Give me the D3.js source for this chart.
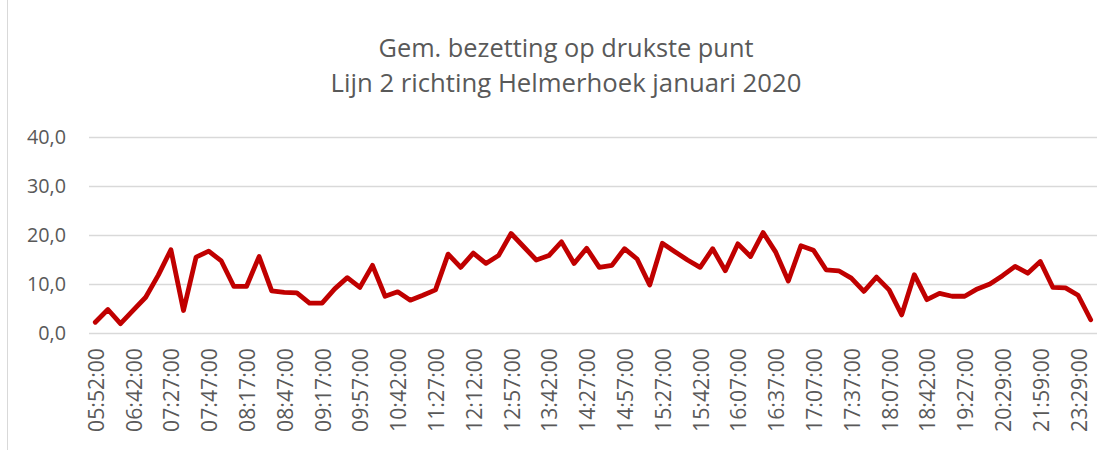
<!DOCTYPE html>
<html><head><meta charset="utf-8">
<script src="https://cdn.jsdelivr.net/npm/d3@7"></script>
<style>body{margin:0;background:#fff}svg{display:block}</style>
</head><body>
<svg id="c" width="1112" height="450"></svg>
<script>
const titleLines = ["Gem. bezetting op drukste punt", "Lijn 2 richting Helmerhoek januari 2020"];
const times = ["05:52:00","06:12:00","06:27:00","06:42:00","06:57:00","07:12:00","07:27:00","07:32:00","07:42:00","07:47:00",
"07:57:00","08:07:00","08:17:00","08:27:00","08:37:00","08:47:00","08:57:00","09:07:00","09:17:00","09:27:00",
"09:42:00","09:57:00","10:12:00","10:27:00","10:42:00","10:57:00","11:12:00","11:27:00","11:42:00","11:57:00",
"12:12:00","12:27:00","12:42:00","12:57:00","13:12:00","13:27:00","13:42:00","13:57:00","14:12:00","14:27:00",
"14:37:00","14:47:00","14:57:00","15:07:00","15:17:00","15:27:00","15:32:00","15:37:00","15:42:00","15:52:00",
"15:57:00","16:07:00","16:17:00","16:27:00","16:37:00","16:47:00","16:57:00","17:07:00","17:17:00","17:27:00",
"17:37:00","17:47:00","17:57:00","18:07:00","18:17:00","18:27:00","18:42:00","18:57:00","19:12:00","19:27:00",
"19:42:00","19:59:00","20:29:00","20:59:00","21:29:00","21:59:00","22:29:00","22:59:00","23:29:00","23:59:00"];
const values = [2.2,4.8,1.9,4.6,7.3,11.8,17.0,4.6,15.5,16.7,
14.7,9.5,9.5,15.6,8.6,8.3,8.2,6.1,6.1,9.0,
11.3,9.3,13.8,7.5,8.4,6.7,7.7,8.8,16.1,13.4,
16.3,14.2,15.8,20.3,17.6,14.9,15.8,18.6,14.2,17.3,
13.4,13.8,17.2,15.1,9.8,18.3,16.6,14.9,13.4,17.2,
12.7,18.2,15.6,20.5,16.5,10.6,17.8,16.9,12.9,12.7,
11.2,8.5,11.4,8.8,3.7,11.9,6.8,8.1,7.5,7.5,
9.0,10.0,11.7,13.6,12.2,14.6,9.3,9.2,7.7,2.7];
const yTicks = [0,10,20,30,40];

(function(){
const svg = d3.select("#c");
const pL = 89, pR = 1097, pT = 137, pB = 333;
const FONT = "'Open Sans', 'Noto Sans', sans-serif";

function fitSize(text, target){
  const t = svg.append("text").text(text).style("font-family",FONT).style("font-size","20px");
  const w = t.node().getComputedTextLength();
  t.remove();
  return 20*target/w;
}

svg.append("line").attr("x1",7.5).attr("x2",7.5).attr("y1",0).attr("y2",450)
  .attr("stroke","#d9d9d9").attr("stroke-width",1);

const x = d3.scaleBand().domain(times).range([pL,pR]);
const y = d3.scaleLinear().domain([0,40]).range([pB,pT]);

svg.append("g").selectAll("line").data(yTicks).join("line")
  .attr("x1",pL).attr("x2",pR)
  .attr("y1",d=>Math.round(y(d))+0.5).attr("y2",d=>Math.round(y(d))+0.5)
  .attr("stroke","#d9d9d9").attr("stroke-width",1.3);

const ySize = fitSize("40,0", 39);
const fmt = d => d3.format(".1f")(d).replace(".",",");
const yAxis = svg.append("g").attr("transform",`translate(${pL},0)`)
  .call(d3.axisLeft(y).tickValues(yTicks).tickFormat(fmt).tickSize(0).tickPadding(23));
yAxis.select(".domain").remove();
yAxis.selectAll("text").attr("fill","#595959").style("font-family",FONT).style("font-size",ySize.toFixed(2)+"px");

const xSize = fitSize("05:52:00", 84);
const xAxis = svg.append("g").attr("transform",`translate(0,${pB})`)
  .call(d3.axisBottom(x).tickValues(times.filter((t,i)=>i%3===0)).tickSize(0).tickPadding(0));
xAxis.select(".domain").remove();
xAxis.selectAll("text")
  .attr("fill","#595959")
  .style("font-family",FONT).style("font-size",xSize.toFixed(2)+"px")
  .attr("text-anchor","end")
  .attr("dy","0.35em")
  .attr("y",0)
  .attr("transform","translate(1,15) rotate(-90)");

const line = d3.line().x((d,i)=>x(times[i])+x.bandwidth()/2).y(d=>y(d));
svg.append("path").datum(values).attr("d",line)
  .attr("fill","none").attr("stroke","#c00000").attr("stroke-width",4.8)
  .attr("stroke-linejoin","round").attr("stroke-linecap","round");

const tw = [375, 471];
const tb = [57, 92];
titleLines.forEach((t,i)=>{
  svg.append("text").text(t).attr("x",566).attr("y",tb[i])
    .attr("text-anchor","middle").attr("fill","#595959")
    .style("font-family",FONT).style("font-size",fitSize(t, tw[i]).toFixed(2)+"px");
});
})();
</script>
</body></html>
